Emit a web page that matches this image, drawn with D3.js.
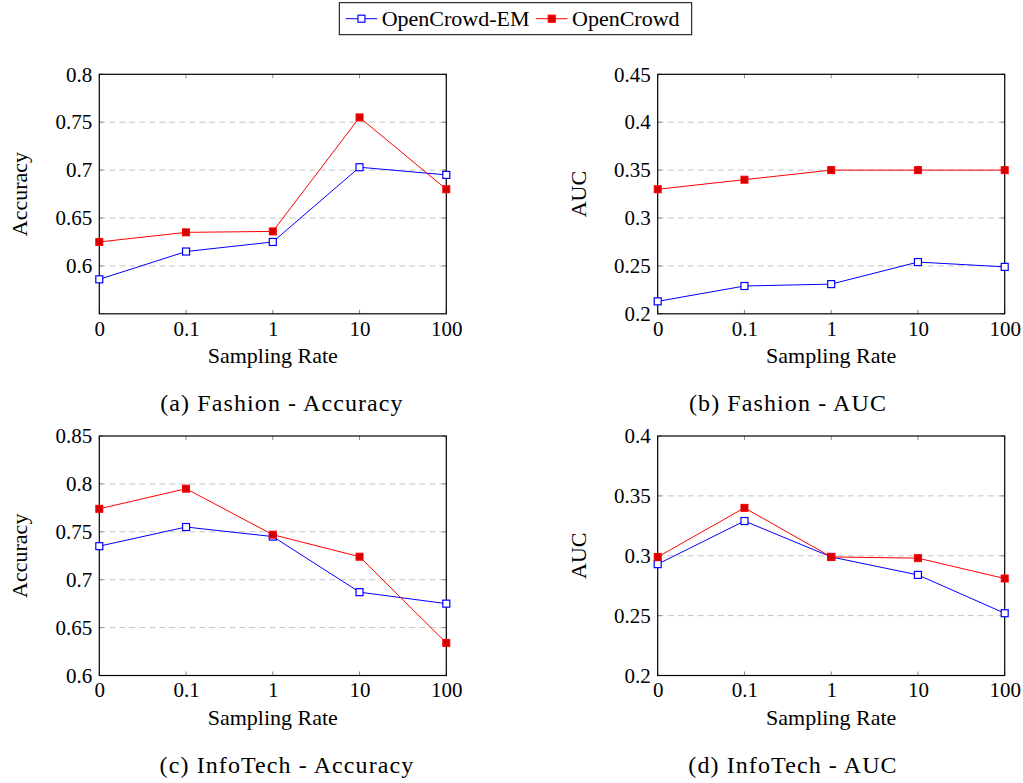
<!DOCTYPE html>
<html>
<head>
<meta charset="utf-8">
<script src="https://cdn.jsdelivr.net/npm/d3@7"></script>
<style>
  body { margin: 0; background: #fff; }
  svg { display: block; }
  text { font-family: "Liberation Serif", "Times New Roman", serif; fill: #000; }
</style>
</head>
<body>
<div id="chart"></div>
<script>
// sampling rates on the x axis
const rates = ["0", "0.1", "1", "10", "100"];

// (a) Fashion - Accuracy
const fashionAccEM = [0.586, 0.615, 0.625, 0.703, 0.695];
const fashionAcc = [0.625, 0.635, 0.636, 0.755, 0.680];
// (b) Fashion - AUC
const fashionAucEM = [0.213, 0.229, 0.231, 0.254, 0.249];
const fashionAuc = [0.330, 0.340, 0.350, 0.350, 0.350];
// (c) InfoTech - Accuracy
const infoAccEM = [0.735, 0.755, 0.745, 0.687, 0.675];
const infoAcc = [0.774, 0.795, 0.747, 0.724, 0.634];
// (d) InfoTech - AUC
const infoAucEM = [0.293, 0.329, 0.299, 0.284, 0.252];
const infoAuc = [0.299, 0.340, 0.299, 0.298, 0.281];

// y ticks per panel
const accTicksA = [0.6, 0.65, 0.7, 0.75, 0.8];
const aucTicksB = [0.2, 0.25, 0.3, 0.35, 0.4, 0.45];
const accTicksC = [0.6, 0.65, 0.7, 0.75, 0.8, 0.85];
const aucTicksD = [0.2, 0.25, 0.3, 0.35, 0.4];

const seriesNames = ["OpenCrowd-EM", "OpenCrowd"];

const blue = "#0000ff";
const red = "#ff0000";
const redFill = "#d40000";

const svg = d3.select("#chart").append("svg")
    .attr("width", 1023)
    .attr("height", 783);

const panels = [
    { x: 99.3, y: 74.3, yDomain: [0.55, 0.8], ticks: accTicksA, yLabel: "Accuracy",
      em: fashionAccEM, oc: fashionAcc, caption: "(a) Fashion - Accuracy", capX: 282, capY: 411 },
    { x: 657.7, y: 74.3, yDomain: [0.2, 0.45], ticks: aucTicksB, yLabel: "AUC",
      em: fashionAucEM, oc: fashionAuc, caption: "(b) Fashion - AUC", capX: 788, capY: 411 },
    { x: 99.3, y: 436, yDomain: [0.6, 0.85], ticks: accTicksC, yLabel: "Accuracy",
      em: infoAccEM, oc: infoAcc, caption: "(c) InfoTech - Accuracy", capX: 287, capY: 773 },
    { x: 657.7, y: 436, yDomain: [0.2, 0.4], ticks: aucTicksD, yLabel: "AUC",
      em: infoAucEM, oc: infoAuc, caption: "(d) InfoTech - AUC", capX: 793, capY: 773 }
];

const w = 347, h = 239.5;
const tickLen = 4;

panels.forEach(p => {
    const g = svg.append("g").attr("transform", `translate(${p.x}, ${p.y})`);

    const xScale = d3.scalePoint().domain(rates).range([0, w]);
    const yScale = d3.scaleLinear().domain(p.yDomain).range([h, 0]);

    // dashed grid
    g.append("g").selectAll("line")
        .data(p.ticks.filter(t => t > p.yDomain[0] + 1e-9 && t < p.yDomain[1] - 1e-9))
        .enter().append("line")
        .attr("x1", 0).attr("x2", w)
        .attr("y1", d => yScale(d)).attr("y2", d => yScale(d))
        .attr("stroke", "#c4c4c4")
        .attr("stroke-width", 1)
        .attr("stroke-dasharray", "6 4");

    // inner tick marks on all four sides
    const tk = g.append("g").attr("stroke", "#8a8a8a").attr("stroke-width", 1);
    rates.forEach(r => {
        const x = xScale(r);
        tk.append("line").attr("x1", x).attr("x2", x).attr("y1", h).attr("y2", h - tickLen);
        tk.append("line").attr("x1", x).attr("x2", x).attr("y1", 0).attr("y2", tickLen);
    });
    p.ticks.forEach(t => {
        const y = yScale(t);
        tk.append("line").attr("x1", 0).attr("x2", tickLen).attr("y1", y).attr("y2", y);
        tk.append("line").attr("x1", w).attr("x2", w - tickLen).attr("y1", y).attr("y2", y);
    });

    // frame
    g.append("rect")
        .attr("width", w).attr("height", h)
        .attr("fill", "none")
        .attr("stroke", "#000")
        .attr("stroke-width", 1.2);

    // tick labels via d3 axes (no domain/lines, text only)
    const xAxis = g.append("g")
        .attr("transform", `translate(0, ${h})`)
        .call(d3.axisBottom(xScale).tickSize(0).tickPadding(7));
    const yAxis = g.append("g")
        .call(d3.axisLeft(yScale).tickValues(p.ticks).tickFormat(d => String(+d.toFixed(2))).tickSize(0).tickPadding(7));
    [xAxis, yAxis].forEach(a => {
        a.select(".domain").remove();
        a.selectAll("text")
            .style("font-family", '"Liberation Serif", serif')
            .style("font-size", "21px")
            .attr("fill", "#000");
    });

    // series lines and markers
    const line = d3.line()
        .x((d, i) => xScale(rates[i]))
        .y(d => yScale(d));

    g.append("path").datum(p.em)
        .attr("fill", "none").attr("stroke", blue).attr("stroke-width", 1)
        .attr("d", line);
    g.append("path").datum(p.oc)
        .attr("fill", "none").attr("stroke", red).attr("stroke-width", 1)
        .attr("d", line);

    const s = 7;
    g.append("g").selectAll("rect")
        .data(p.em).enter().append("rect")
        .attr("x", (d, i) => xScale(rates[i]) - s / 2)
        .attr("y", d => yScale(d) - s / 2)
        .attr("width", s).attr("height", s)
        .attr("fill", "#fff").attr("stroke", blue).attr("stroke-width", 1.2);
    g.append("g").selectAll("rect")
        .data(p.oc).enter().append("rect")
        .attr("x", (d, i) => xScale(rates[i]) - s / 2)
        .attr("y", d => yScale(d) - s / 2)
        .attr("width", s).attr("height", s)
        .attr("fill", redFill).attr("stroke", red).attr("stroke-width", 1);

    // axis titles
    g.append("text")
        .attr("x", w / 2).attr("y", h + 49)
        .attr("text-anchor", "middle")
        .style("font-size", "22px")
        .text("Sampling Rate");
    g.append("text")
        .attr("transform", `translate(${-72}, ${h / 2}) rotate(-90)`)
        .attr("text-anchor", "middle")
        .style("font-size", "22px")
        .text(p.yLabel);

    // caption
    svg.append("text")
        .attr("x", p.capX).attr("y", p.capY)
        .attr("text-anchor", "middle")
        .style("font-size", "24px")
        .style("letter-spacing", "1.1px")
        .text(p.caption);
});

// legend
const legend = svg.append("g");
legend.append("rect")
    .attr("x", 339.3).attr("y", 2.7)
    .attr("width", 352.4).attr("height", 32)
    .attr("fill", "#fff").attr("stroke", "#000").attr("stroke-width", 1);

const legendItems = [
    { name: seriesNames[0], color: blue, fill: "#fff", x0: 345.7 },
    { name: seriesNames[1], color: red, fill: redFill, x0: 536 }
];
legendItems.forEach(it => {
    legend.append("line")
        .attr("x1", it.x0).attr("x2", it.x0 + 31.5)
        .attr("y1", 18.7).attr("y2", 18.7)
        .attr("stroke", it.color).attr("stroke-width", 1);
    legend.append("rect")
        .attr("x", it.x0 + 15.75 - 3.5).attr("y", 18.7 - 3.5)
        .attr("width", 7).attr("height", 7)
        .attr("fill", it.fill).attr("stroke", it.color).attr("stroke-width", 1.2);
    legend.append("text")
        .attr("x", it.x0 + 36).attr("y", 25.5)
        .style("font-size", "22px")
        .text(it.name);
});
</script>
</body>
</html>
